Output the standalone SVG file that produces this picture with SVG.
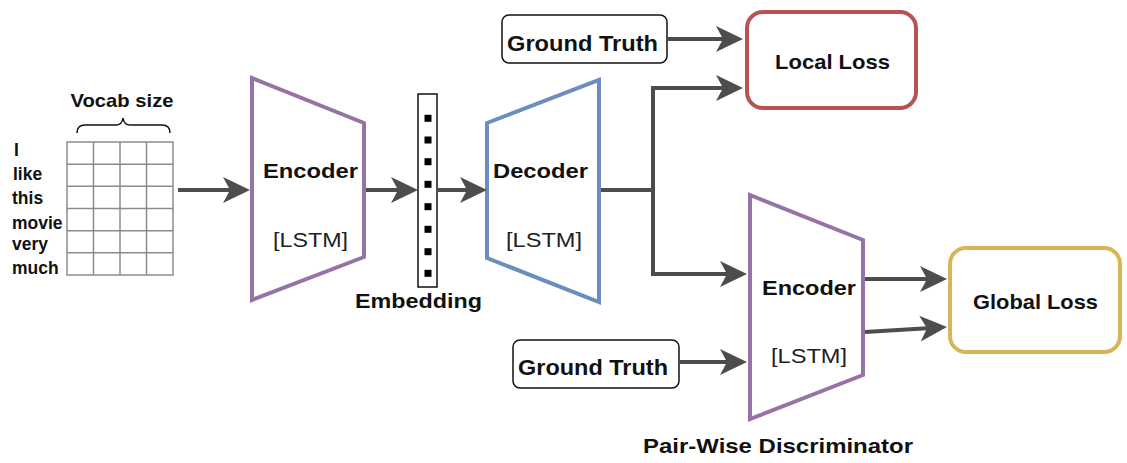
<svg xmlns="http://www.w3.org/2000/svg" width="1127" height="463" viewBox="0 0 1127 463">
<style>
text{font-family:"Liberation Sans",Arial,sans-serif;fill:#111}
.b{font-weight:bold;font-size:20.5px}
.r{font-size:21px;fill:#222}
.w{font-weight:bold;font-size:17.5px}
.c{text-anchor:middle}
.edge{fill:none;stroke:#4d4d4d;stroke-width:4;marker-end:url(#ah)}
.gt{fill:#fff;stroke:#111;stroke-width:1.5}
.grid{fill:none;stroke:#8c8c8c;stroke-width:1.5}
</style>
<defs>
<marker id="ah" viewBox="0 0 27 26" refX="7" refY="13" markerWidth="27" markerHeight="26" markerUnits="userSpaceOnUse" orient="auto">
<path d="M0,0 L27,13 L0,26 L7,13 Z" fill="#4d4d4d"/>
</marker>
</defs>
<rect width="1127" height="463" fill="#fff"/>

<g id="input">
<text class="b c" x="122" y="107" textLength="103" lengthAdjust="spacingAndGlyphs" style="font-size:19px">Vocab size</text>
<path d="M77,133 Q77,125 85,125 L116,125 Q122,125 123,118 Q124,125 130,125 L162,125 Q170,125 170,133" fill="none" stroke="#111" stroke-width="1.5"/>
<g class="grid">
<rect x="67" y="142" width="106" height="133"/>
<line x1="93.5" y1="142" x2="93.5" y2="275"/>
<line x1="120" y1="142" x2="120" y2="275"/>
<line x1="146.5" y1="142" x2="146.5" y2="275"/>
<line x1="67" y1="164.2" x2="173" y2="164.2"/>
<line x1="67" y1="186.3" x2="173" y2="186.3"/>
<line x1="67" y1="208.5" x2="173" y2="208.5"/>
<line x1="67" y1="230.7" x2="173" y2="230.7"/>
<line x1="67" y1="252.8" x2="173" y2="252.8"/>
</g>
<text class="w" x="14" y="156">I</text>
<text class="w" x="13" y="180">like</text>
<text class="w" x="12" y="204">this</text>
<text class="w" x="12" y="229">movie</text>
<text class="w" x="12" y="250">very</text>
<text class="w" x="12" y="274">much</text>
</g>

<g id="encoder1">
<polygon points="252,78 364,123 364,257 252,300" fill="#fff" stroke="#9673A6" stroke-width="4"/>
<text class="b c" x="310.5" y="178" textLength="95" lengthAdjust="spacingAndGlyphs">Encoder</text>
<text class="r c" x="310.5" y="247" textLength="75" lengthAdjust="spacingAndGlyphs">[LSTM]</text>
</g>

<g id="embedding">
<rect x="418" y="94" width="19" height="193" fill="#fff" stroke="#111" stroke-width="1.5"/>
<g fill="#000">
<rect x="424.5" y="114.8" width="7" height="7"/>
<rect x="424.5" y="136.5" width="7" height="7"/>
<rect x="424.5" y="158.2" width="7" height="7"/>
<rect x="424.5" y="180.8" width="7" height="7"/>
<rect x="424.5" y="203.2" width="7" height="7"/>
<rect x="424.5" y="225.8" width="7" height="7"/>
<rect x="424.5" y="248.2" width="7" height="7"/>
<rect x="424.5" y="269.8" width="7" height="7"/>
</g>
<text class="b c" x="418.5" y="308" textLength="127" lengthAdjust="spacingAndGlyphs">Embedding</text>
</g>

<g id="decoder">
<polygon points="487,123 599,80 599,302 487,258" fill="#fff" stroke="#6C8EBF" stroke-width="4"/>
<text class="b c" x="540.5" y="178" textLength="95" lengthAdjust="spacingAndGlyphs">Decoder</text>
<text class="r c" x="544" y="247" textLength="76" lengthAdjust="spacingAndGlyphs">[LSTM]</text>
</g>

<g id="ground-truth-1">
<rect class="gt" x="502" y="15" width="165" height="48" rx="7"/>
<text class="b c" x="582.5" y="51" textLength="151" lengthAdjust="spacingAndGlyphs" style="font-size:21.5px">Ground Truth</text>
</g>

<g id="local-loss">
<rect x="747" y="12" width="169" height="96" rx="16" fill="#fff" stroke="#B85450" stroke-width="4"/>
<text class="b c" x="832.5" y="69" textLength="115" lengthAdjust="spacingAndGlyphs">Local Loss</text>
</g>

<g id="encoder2">
<polygon points="750,195 863,240 863,375 750,419" fill="#fff" stroke="#9673A6" stroke-width="4"/>
<text class="b c" x="809" y="295" textLength="94" lengthAdjust="spacingAndGlyphs">Encoder</text>
<text class="r c" x="809" y="363" textLength="76" lengthAdjust="spacingAndGlyphs">[LSTM]</text>
<text class="b c" x="778" y="453" textLength="270" lengthAdjust="spacingAndGlyphs" style="font-size:21px">Pair-Wise Discriminator</text>
</g>

<g id="ground-truth-2">
<rect class="gt" x="513" y="340" width="166" height="48" rx="7"/>
<text class="b c" x="593" y="375" textLength="150" lengthAdjust="spacingAndGlyphs" style="font-size:21.5px">Ground Truth</text>
</g>

<g id="global-loss">
<rect x="950" y="248" width="170" height="104" rx="16" fill="#fff" stroke="#D6B656" stroke-width="4"/>
<text class="b c" x="1035.5" y="309" textLength="125" lengthAdjust="spacingAndGlyphs">Global Loss</text>
</g>

<g id="connectors">
<path class="edge" d="M178,190 L230,190"/>
<path class="edge" d="M366,190 L398,190"/>
<path class="edge" d="M437,190 L467,190"/>
<path class="edge" d="M601,190 L653,190 L653,88 L723,88"/>
<path class="edge" d="M601,190 L653,190 L653,274 L727,274"/>
<path class="edge" d="M667,39 L723,39"/>
<path class="edge" d="M679,362 L727,362"/>
<path class="edge" d="M865,279 L927,279"/>
<path class="edge" d="M865,332 L927,328.2"/>
</g>
</svg>
